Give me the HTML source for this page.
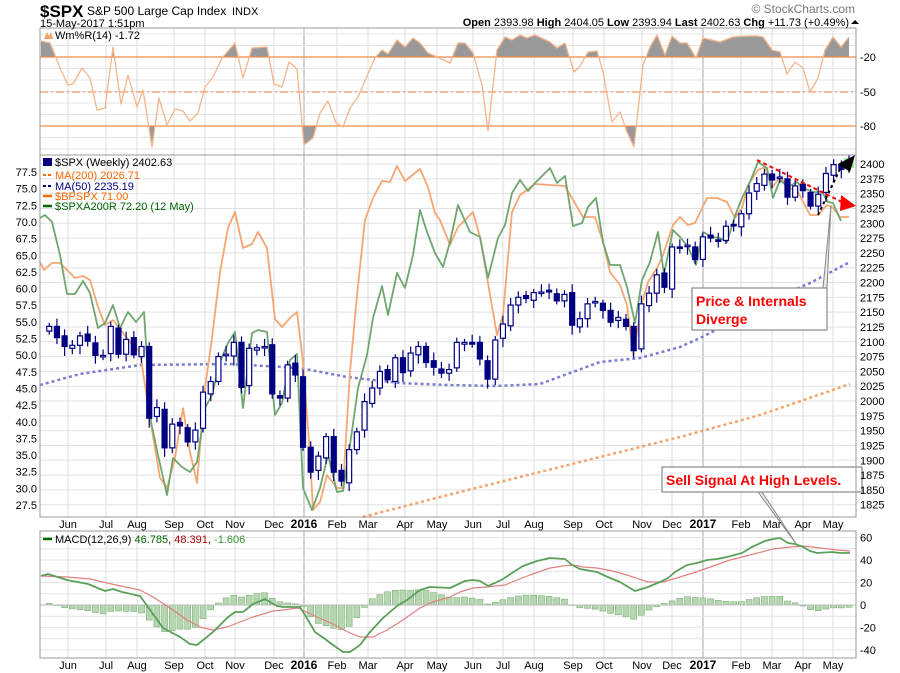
<!DOCTYPE html>
<html><head><meta charset="utf-8"><style>
html,body{margin:0;padding:0;background:#fff;}
svg{display:block;font-family:"Liberation Sans",sans-serif;}
</style></head><body>
<svg id="c" width="900" height="673" viewBox="0 0 900 673" xmlns="http://www.w3.org/2000/svg"></svg>
<script>
const S=document.getElementById('c');let h='';
function L(x1,y1,x2,y2,c,w,d){h+=`<line x1="${x1}" y1="${y1}" x2="${x2}" y2="${y2}" stroke="${c}" stroke-width="${w||1}"${d?` stroke-dasharray="${d}"`:''}/>`;}
function T(x,y,t,o){o=o||{};h+=`<text x="${x}" y="${y}" font-size="${o.s||11}" fill="${o.c||'#000'}"${o.a?` text-anchor="${o.a}"`:''}${o.b?' font-weight="bold"':''}>${t}</text>`;}
function P(pts,c,w,d,f){h+=`<polyline points="${pts.map(p=>p.join(',')).join(' ')}" fill="${f||'none'}" stroke="${c}" stroke-width="${w||1.5}"${d?` stroke-dasharray="${d}"`:''} stroke-linejoin="round"/>`;}
const X0=40,X1=856;
const panels=[[28,155],[155,517],[531,658]];
const months=[[68,'Jun'],[106,'Jul'],[137,'Aug'],[174,'Sep'],[205,'Oct'],[235,'Nov'],[274,'Dec'],[304,'2016',1],[337,'Feb'],[368,'Mar'],[405,'Apr'],[437,'May'],[473,'Jun'],[503,'Jul'],[534,'Aug'],[573,'Sep'],[604,'Oct'],[642,'Nov'],[672,'Dec'],[703,'2017',1],[741,'Feb'],[772,'Mar'],[803,'Apr'],[833,'May']];
for(const [a,b] of panels){
  for(const m of months){L(m[0],a,m[0],b,m[2]?'#aaa':'#ddd',1);}
}
for(let v=0;v>=-100;v-=10){const y=34+(-v)*1.15;L(X0,y,X1,y,'#e4e4e4');}
for(let v=1825;v<=2400;v+=25){const y=164+(2400-v)*0.5926;L(X0,y,X1,y,'#e0e0e0');}
for(let v=-50;v<=60;v+=10){const y=605-v*1.125;if(y>532&&y<657)L(X0,y,X1,y,'#e4e4e4');}
const wr=[[41,41],[50,43],[53,50],[60,68],[68,85],[73,84],[82,68],[90,78],[97,110],[105,108],[113,47],[121,104],[128,75],[137,107],[143,90],[152,147],[159,98],[167,125],[175,109],[183,111],[190,121],[198,113],[205,87],[213,77],[222,58],[235,43],[243,78],[252,48],[267,47],[274,84],[282,87],[289,62],[297,69],[304,145],[313,138],[320,113],[328,101],[336,123],[343,127],[350,108],[358,97],[367,76],[375,58],[382,50],[388,54],[397,40],[405,47],[413,38],[420,43],[428,53],[437,57],[450,63],[458,43],[465,43],[473,53],[482,85],[488,131],[497,50],[505,37],[512,40],[520,35],[527,38],[535,35],[550,42],[557,48],[565,43],[574,72],[580,66],[588,52],[597,51],[603,72],[612,122],[620,112],[627,132],[634,147],[643,65],[650,47],[657,35],[665,55],[672,36],[680,43],[687,43],[696,58],[703,38],[720,42],[733,37],[747,36],[757,36],[763,37],[772,50],[780,52],[787,74],[795,62],[803,68],[810,92],[818,78],[825,50],[833,37],[841,47],[849,37]];
h+=`<defs><clipPath id="ca"><rect x="40" y="28" width="816" height="29"/></clipPath><clipPath id="cb"><rect x="40" y="126" width="816" height="29"/></clipPath></defs>`;
const poly=wr.map(p=>p.join(',')).join(' ');
h+=`<polygon clip-path="url(#ca)" points="41,57 ${poly} 849,57" fill="#999"/>`;
h+=`<polygon clip-path="url(#cb)" points="41,126 ${poly} 849,126" fill="#999"/>`;
L(X0,57,X1,57,'#f08a4b',1.3);L(X0,126,X1,126,'#f08a4b',1.3);L(X0,92,X1,92,'#f08a4b',1,'8,3,2,3');
P(wr,'#f7b48a',1.3);
P([[363,517],[440,497],[520,477],[600,457],[680,437],[760,415],[850,384]],'#f4a46a',2.5,'3,3');
P([[40,385],[80,374],[140,365],[230,364],[300,368],[347,377],[400,383],[447,385],[497,386],[540,384],[600,362],[640,358],[680,347],[700,338],[740,318],[780,296],[810,283],[850,262]],'#7b7bd0',2.5,'3,3');
const bp=[[40,262],[44,270],[52,263],[60,263],[67,270],[75,278],[83,276],[90,280],[98,307],[105,325],[113,320],[130,342],[140,352],[150,418],[160,478],[167,488],[175,458],[183,408],[190,452],[197,483],[205,388],[212,338],[220,272],[228,228],[235,212],[243,248],[252,244],[258,232],[267,248],[275,319],[282,327],[290,318],[297,312],[303,362],[310,455],[313,510],[320,502],[327,475],[337,488],[343,488],[350,372],[357,295],[365,220],[373,198],[382,181],[390,182],[397,166],[405,181],[420,169],[428,187],[435,213],[440,220],[450,245],[458,227],[473,212],[480,237],[497,335],[503,315],[512,212],[520,195],[535,184],[550,185],[565,186],[573,200],[583,217],[595,217],[603,242],[610,272],[620,285],[627,305],[633,355],[642,303],[648,282],[657,268],[663,255],[673,225],[680,217],[688,225],[695,223],[707,198],[717,198],[727,202],[735,218],[742,208],[748,185],[758,170],[765,167],[772,188],[780,177],[790,188],[798,192],[810,215],[818,215],[827,205],[833,208],[840,217],[849,217]];
P(bp,'#f6a672',1.8);
const gr=[[40,218],[45,215],[52,222],[60,255],[67,294],[75,294],[83,281],[90,293],[98,328],[105,323],[113,305],[120,328],[128,312],[136,322],[144,312],[151,422],[158,455],[167,495],[173,458],[182,467],[190,472],[197,462],[205,408],[212,395],[220,362],[228,343],[235,332],[243,408],[252,333],[258,330],[267,332],[275,415],[282,403],[290,360],[297,354],[303,488],[312,510],[320,488],[328,455],[337,492],[343,491],[350,445],[358,388],[367,355],[373,318],[382,286],[388,315],[397,273],[405,288],[413,255],[420,210],[427,232],[435,253],[443,267],[450,242],[458,205],[470,232],[480,237],[488,278],[498,238],[505,225],[512,193],[520,180],[528,191],[535,183],[550,168],[557,183],[565,176],[573,226],[582,223],[588,207],[596,198],[603,242],[610,265],[620,265],[627,287],[635,323],[642,280],[650,262],[658,232],[664,274],[673,230],[681,238],[688,247],[696,265],[703,232],[712,237],[720,238],[727,242],[735,216],[742,198],[750,182],[758,162],[767,168],[773,198],[780,180],[788,187],[797,182],[803,188],[813,192],[822,192],[828,202],[833,203],[841,221]];
P(gr,'#6fa66f',1.8);
const cl=[2126,2107,2092,2094,2110,2101,2077,2077,2126,2079,2104,2078,2092,1971,1989,1921,1961,1958,1931,1951,2015,2033,2075,2079,2099,2023,2089,2090,2092,2012,2005,2061,2044,1922,1880,1907,1940,1880,1865,1918,1948,1999,2022,2050,2036,2073,2048,2081,2092,2065,2057,2047,2053,2099,2099,2096,2071,2037,2103,2130,2162,2175,2173,2183,2184,2184,2169,2180,2128,2139,2164,2168,2153,2133,2141,2126,2085,2164,2182,2213,2192,2260,2258,2263,2239,2277,2275,2271,2295,2297,2316,2351,2367,2383,2373,2378,2344,2363,2355,2329,2349,2384,2399,2391,2402];
const Y=v=>164+(2400-v)*0.5926;const n=cl.length;
for(let i=0;i<n;i++){const x=849-(n-1-i)*7.69;const c=cl[i];const o=i?cl[i-1]+(i%3-1)*3:2118;
 const hi=Math.max(o,c)+6+(i*7%9);const lo=Math.min(o,c)-6-(i*5%11);
 L(x,Y(hi),x,Y(lo),'#000080',1.2);
 const t=Y(Math.max(o,c)),b=Math.max(Y(Math.min(o,c)),t+1.5);
 h+=`<rect x="${x-2.5}" y="${t}" width="5" height="${b-t}" fill="${c>=o?'#fff':'#000080'}" stroke="#000080" stroke-width="1.2"/>`;}
h+=`<rect x="845" y="159" width="8" height="8" fill="none" stroke="#9e9" stroke-width="2"/>`;
const md=[[41,576],[48,574],[67,580],[88,584],[105,591],[113,589],[122,592],[140,596],[148,607],[163,628],[180,637],[190,644],[197,645],[213,632],[227,618],[235,612],[243,612],[253,604],[265,599],[277,606],[283,607],[300,607],[305,615],[315,632],[325,639],[333,645],[343,652],[350,652],[360,645],[370,632],[383,618],[397,606],[407,600],[420,590],[430,587],[450,588],[465,581],[473,580],[480,581],[488,586],[495,583],[503,579],[512,573],[523,566],[537,561],[550,558],[565,559],[572,565],[580,569],[597,572],[610,578],[620,582],[635,591],[648,587],[660,582],[668,578],[675,572],[687,565],[697,563],[707,560],[717,559],[727,557],[742,553],[752,547],[765,541],[773,539],[780,538],[788,543],[795,544],[803,547],[810,551],[817,553],[832,552],[840,553],[850,553]];
const sg=[[41,576],[67,577],[90,579],[107,583],[140,590],[153,597],[170,608],[187,620],[200,627],[213,630],[227,627],[253,617],[273,611],[283,610],[298,608],[317,617],[333,624],[350,633],[360,637],[373,637],[387,630],[403,620],[420,608],[433,602],[450,597],[460,592],[473,588],[487,587],[505,585],[517,580],[530,575],[550,568],[563,566],[573,565],[583,567],[597,568],[617,572],[633,577],[648,582],[663,582],[680,577],[693,573],[713,566],[730,560],[750,555],[773,549],[790,547],[803,546],[820,548],[837,550],[850,551]];
const it=(a,x)=>{for(let k=1;k<a.length;k++)if(a[k][0]>=x){const p=a[k-1],q=a[k];return p[1]+(q[1]-p[1])*(x-p[0])/(q[0]-p[0]||1);}return a[a.length-1][1];};
for(let i=0;i<n;i++){const x=849-(n-1-i)*7.69;let d=(it(md,x)-it(sg,x));d*= d>0?1.1:0.85;const y=605+d;
 h+=`<rect x="${x-3}" y="${Math.min(605,y)}" width="6" height="${Math.max(Math.abs(d),0.5)}" fill="#b5d6b0" stroke="#7fb07a" stroke-width="0.6"/>`;}
L(X0,605,X1,605,'#bbb',1);
P(sg,'#e08080',1.2);P(md,'#5aa05a',1.8);
L(757,160,842,202,'#f00',2,'4,3');
h+=`<polygon points="841,195 856,206 840,211" fill="#f00"/>`;
L(818,215,841,167,'#000',2,'3,3');
h+=`<polygon points="838,164 855,155 850,172" fill="#000"/>`;
h+=`<polyline points="823,288 831,205 827,288" fill="#e8e8e8" stroke="#888" stroke-width="1"/>`;
h+=`<rect x="692" y="288" width="135" height="42" fill="#fff" stroke="#888" stroke-width="1.2"/>`;
T(696,306,'Price &amp; Internals',{s:14,b:1,c:'#f00'});T(696,324,'Diverge',{s:14,b:1,c:'#f00'});
h+=`<polyline points="758,492 797,545 762,492" fill="#e8e8e8" stroke="#888" stroke-width="1"/>`;
h+=`<rect x="662" y="467" width="200" height="25" fill="#fff" stroke="#888" stroke-width="1.2"/>`;
T(666,485,'Sell Signal At High Levels.',{s:14,b:1,c:'#f00'});
for(const [a,b] of panels)h+=`<rect x="${X0}" y="${a}" width="${X1-X0}" height="${b-a}" fill="none" stroke="#999" stroke-width="1"/>`;
for(const [v,y] of [['-20',57],['-50',92],['-80',126]])T(860,y+4,v);
for(let v=1825;v<=2400;v+=25)T(860,Y(v)+4,v);
for(let k=0;k<=20;k++){const v=77.5-k*2.5;T(37,172+k*16.65+4,v.toFixed(1),{a:'end'});}
for(const v of [60,40,20,0,-20,-40])T(860,605-v*1.125+4,v);
for(const m of months){T(m[0],528,m[1],{a:'middle',b:m[2],s:m[2]?12:11});T(m[0],669,m[1],{a:'middle',b:m[2],s:m[2]?12:11});}
T(55,39,'Wm%R(14) -1.72',{s:11});h+=`<polygon points="44,39 47,32 49,36 51,32 53,39" fill="#f4a46a"/>`;
T(55,166,'$SPX (Weekly) 2402.63',{s:11});h+=`<rect x="43" y="158" width="9" height="8" fill="#000080"/>`;
L(43,175,52,175,'#f60',2,'3,2');T(55,179,'MA(200) 2026.71',{s:11,c:'#f60'});
L(43,186,52,186,'#000080',2,'3,2');T(55,190,'MA(50) 2235.19',{s:11,c:'#000080'});
L(43,196,52,196,'#f60',2.5);T(55,200,'$BPSPX 71.00',{s:11,c:'#f60'});
L(43,206,52,206,'#060',2.5);T(55,210,'$SPXA200R 72.20 (12 May)',{s:11,c:'#060'});
L(43,539,52,539,'#060',2.5);h+=`<text x="55" y="543" font-size="11">MACD(12,26,9) <tspan fill="#060">46.785</tspan>, <tspan fill="#a00">48.391</tspan>, <tspan fill="#393">-1.606</tspan></text>`;
T(40,17,'$SPX',{s:17,b:1});T(87,15,'S&amp;P 500 Large Cap Index',{s:12});T(232,15,'INDX',{s:11});
T(40,27,'15-May-2017 1:51pm',{s:11});
T(855,13,'© StockCharts.com',{s:12,c:'#777',a:'end'});
h+=`<text x="849" y="26" font-size="11" text-anchor="end"><tspan font-weight="bold">Open</tspan> 2393.98  <tspan font-weight="bold">High</tspan> 2404.05  <tspan font-weight="bold">Low</tspan> 2393.94  <tspan font-weight="bold">Last</tspan> 2402.63  <tspan font-weight="bold">Chg</tspan> +11.73 (+0.49%)</text>`;
h+=`<polygon points="851,24 855,20 859,24" fill="#000"/>`;
S.innerHTML=h;
</script>
</body></html>
